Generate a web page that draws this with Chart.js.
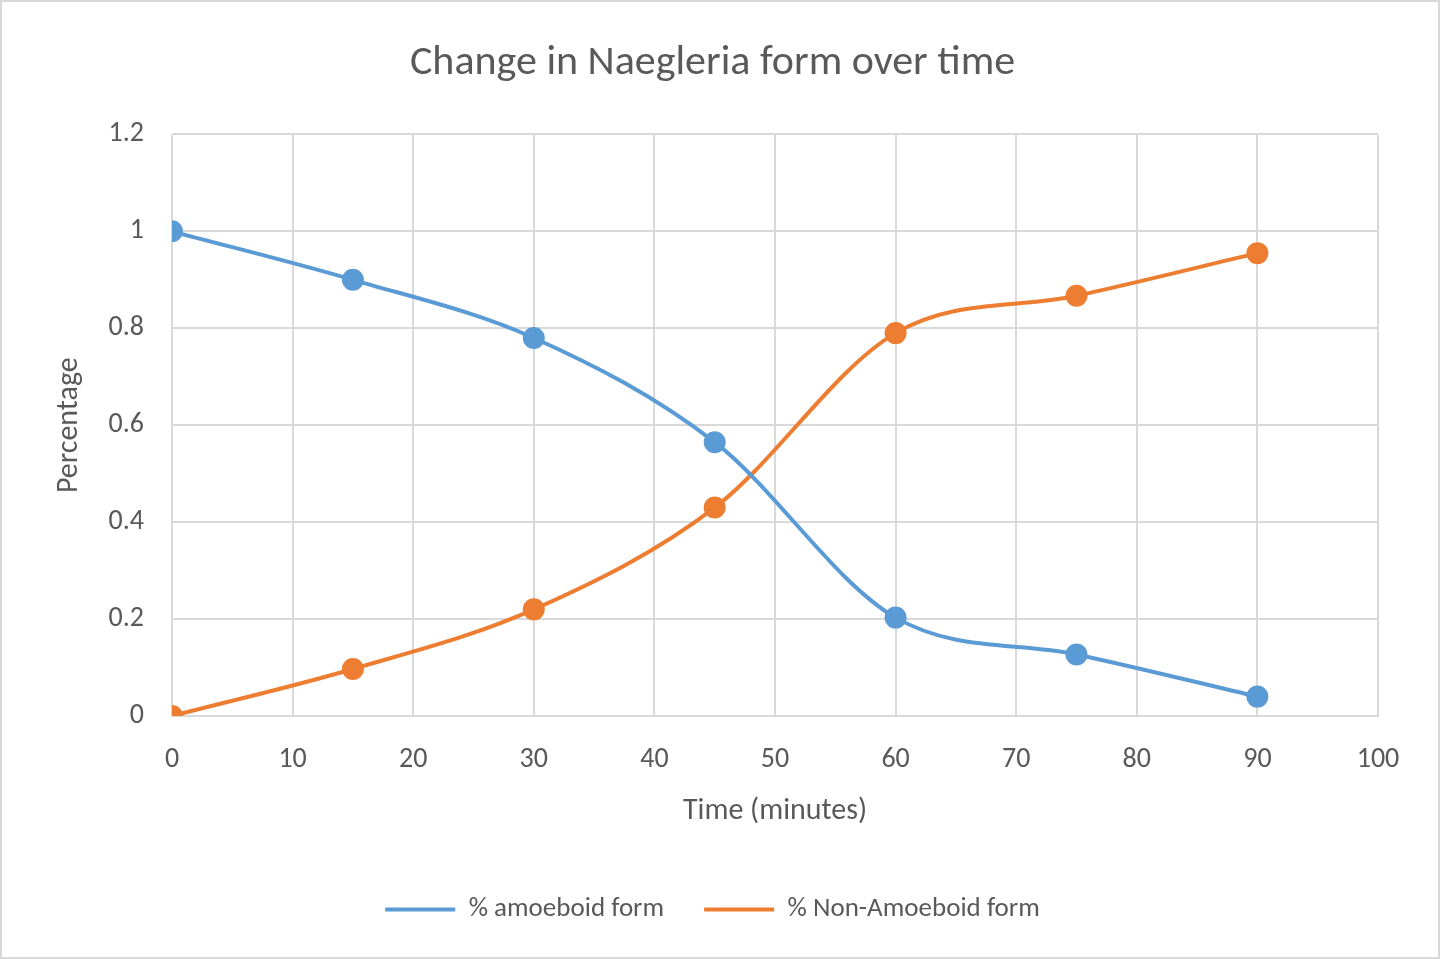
<!DOCTYPE html>
<html><head><meta charset="utf-8">
<script src="https://cdn.jsdelivr.net/npm/chart.js@4"></script>
<style>html,body{margin:0;padding:0;background:#fff}#wrap{width:1440px;height:959px;box-sizing:border-box;border:2px solid #d9d9d9}</style>
</head><body><div id="wrap"><canvas id="c" width="1436" height="955"></canvas></div>
<script>
const times = [0, 15, 30, 45, 60, 75, 90];
const amoeboid = [1.0, 0.90, 0.78, 0.565, 0.203, 0.127, 0.04];
const nonAmoeboid = [0, 0.097, 0.22, 0.43, 0.79, 0.867, 0.955];
const seriesNames = ['% amoeboid form', '% Non-Amoeboid form'];
const font = 'Calibri, Carlito, "Open Sans", sans-serif';
const grey = '#595959';
new Chart(document.getElementById('c'), {
  type: 'line',
  data: { datasets: [
    { label: seriesNames[0], data: times.map((t,i)=>({x:t,y:amoeboid[i]})), borderColor:'#5b9bd5', backgroundColor:'#5b9bd5', borderWidth:4, pointRadius:9, pointHoverRadius:9, cubicInterpolationMode:'monotone' },
    { label: seriesNames[1], data: times.map((t,i)=>({x:t,y:nonAmoeboid[i]})), borderColor:'#ed7d31', backgroundColor:'#ed7d31', borderWidth:4, pointRadius:9, pointHoverRadius:9, cubicInterpolationMode:'monotone' }
  ]},
  options: {
    responsive:false, animation:false,
    layout:{padding:{left:45,right:60,top:36,bottom:24}},
    plugins:{
      title:{display:true,text:'Change in Naegleria form over time',color:grey,font:{family:font,size:42,weight:'normal'},padding:{top:0,bottom:46}},
      legend:{position:'bottom',labels:{color:grey,font:{family:font,size:27},usePointStyle:false,boxWidth:70,boxHeight:4,padding:40,
        generateLabels(chart){return chart.data.datasets.map((d,i)=>({text:d.label,fillStyle:d.borderColor,strokeStyle:d.borderColor,lineWidth:0,datasetIndex:i,fontColor:grey}));}}},
      tooltip:{enabled:false}
    },
    scales:{
      x:{type:'linear',min:0,max:100,ticks:{stepSize:10,color:grey,font:{family:font,size:28},padding:27},
        grid:{color:'#d9d9d9',lineWidth:2,drawTicks:false},border:{color:'#d9d9d9',width:2},
        title:{display:true,text:'Time (minutes)',color:grey,font:{family:font,size:30},padding:{top:4,bottom:27}},
        afterFit(s){s.height=140;}},
      y:{min:0,max:1.2,ticks:{stepSize:0.2,color:grey,font:{family:font,size:28},padding:28,callback:v=>String(Math.round(v*10)/10)},
        grid:{color:'#d9d9d9',lineWidth:2,drawTicks:false},border:{display:false},
        title:{display:true,text:'Percentage',color:grey,font:{family:font,size:30}},
        afterFit(s){s.width=125;}}
    }
  }
});
</script></body></html>
